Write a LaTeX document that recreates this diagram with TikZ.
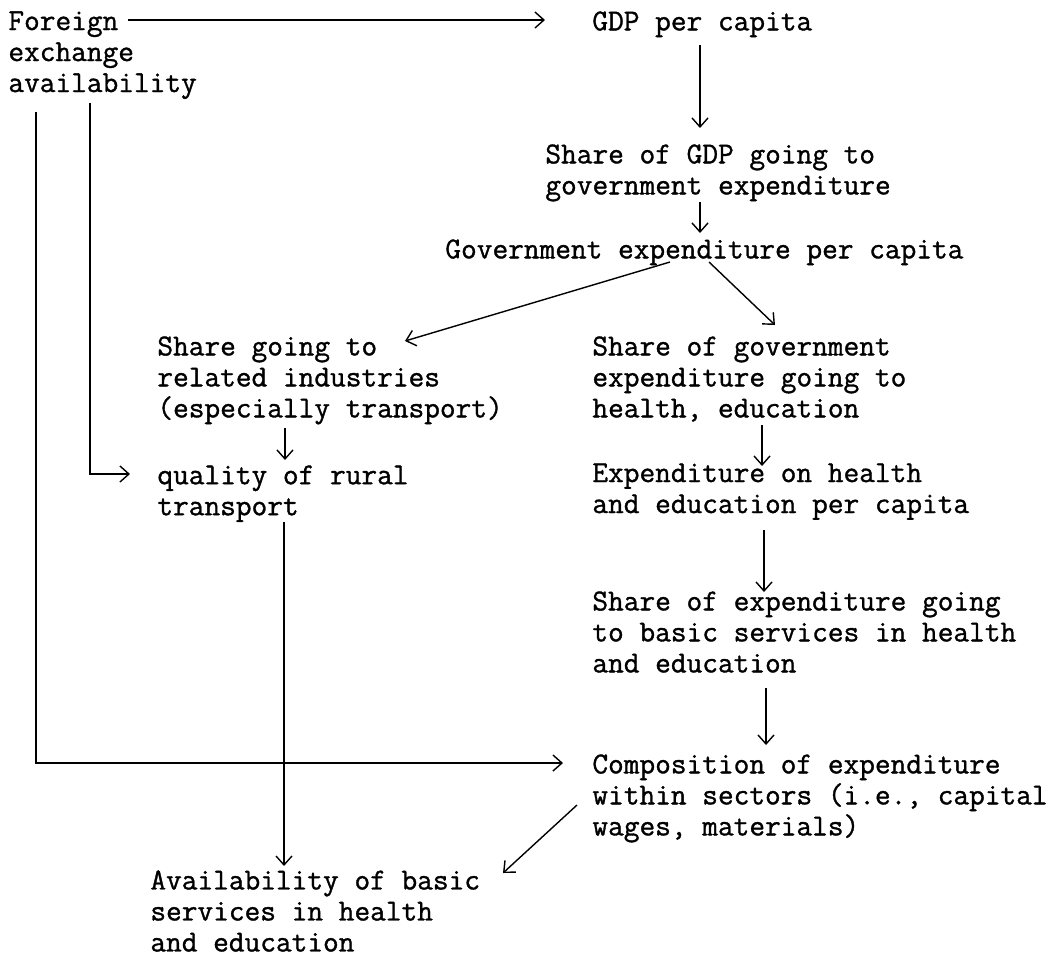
\documentclass[tikz,border=0pt]{standalone}
\usepackage{fontspec}
\usepackage{tikz}
\usetikzlibrary{arrows.meta}

\newfontfamily\typew{Latin Modern Mono}[BoldFont={Latin Modern Mono},BoldFeatures={FakeBold=1.1}]

\tikzset{
  box/.style={anchor=north west, inner sep=0pt, align=left,
    font=\typew\bfseries\fontsize{15.24}{15.5}\selectfont},
  link/.style={line width=0.7pt, -{Straight Barb[length=4.5pt,width=8pt]}}
}

\begin{document}
\begin{tikzpicture}[x=0.5pt, y=-0.5pt]
                    \useasboundingbox (0,0) rectangle (1058,960);
                    % text blocks
                    \node [box] (fx) at (8, 11) {Foreign\\exchange\\availability};
                    \node [box] (gdp) at (592, 11) {GDP per capita};
                    \node [box] (gshare) at (545, 144) {Share of GDP going to\\government expenditure};
                    \node [box] (gexp) at (445, 239) {Government expenditure per capita};
                    \node [box] (trshare) at (157, 336) {Share going to\\related industries\\(especially transport)};
                    \node [box] (hedshare) at (592, 336) {Share of government\\expenditure going to\\health, education};
                    \node [box] (rural) at (157, 465) {quality of rural\\transport};
                    \node [box] (hedexp) at (592, 463) {Expenditure on health\\and education per capita};
                    \node [box] (basic) at (592, 591) {Share of expenditure going\\to basic services in health\\and education};
                    \node [box] (compo) at (592, 754) {Composition of expenditure\\within sectors (i.e., capital\\wages, materials)};
                    \node [box] (avail) at (150, 870) {Availability of basic\\services in health\\and education};
                    % arrows
                    \draw [link] ([shift={(120,9)}]fx.north west) -- ([shift={(-47,9)}]gdp.north west);
                    \draw [link] ([shift={(108,34)}]gdp.north west) -- ([shift={(155,-16)}]gshare.north west);
                    \draw [link] ([shift={(155,58)}]gshare.north west) -- ([shift={(255,-6)}]gexp.north west);
                    \draw [link] ([shift={(225,23)}]gexp.north west) -- ([shift={(248,5)}]trshare.north west);
                    \draw [link] ([shift={(264,23)}]gexp.north west) -- ([shift={(183,-11)}]hedshare.north west);
                    \draw [link] ([shift={(128,92)}]trshare.north west) -- ([shift={(128,-5)}]rural.north west);
                    \draw [link] ([shift={(170,89)}]hedshare.north west) -- ([shift={(170,3)}]hedexp.north west);
                    \draw [link] ([shift={(172,67)}]hedexp.north west) -- ([shift={(172,1)}]basic.north west);
                    \draw [link] ([shift={(174,97)}]basic.north west) -- ([shift={(174,-9)}]compo.north west);
                    \draw [link] ([shift={(127,57)}]rural.north west) -- ([shift={(134,-4)}]avail.north west);
                    \draw [link] ([shift={(-15,51)}]compo.north west) -- ([shift={(353,3)}]avail.north west);
                    \draw [link] ([shift={(28,101)}]fx.north west) |- ([shift={(-29,9)}]compo.north west);
                    \draw [link] ([shift={(82,92)}]fx.north west) |- ([shift={(-27,9)}]rural.north west);
                \end{tikzpicture}
\end{document}
